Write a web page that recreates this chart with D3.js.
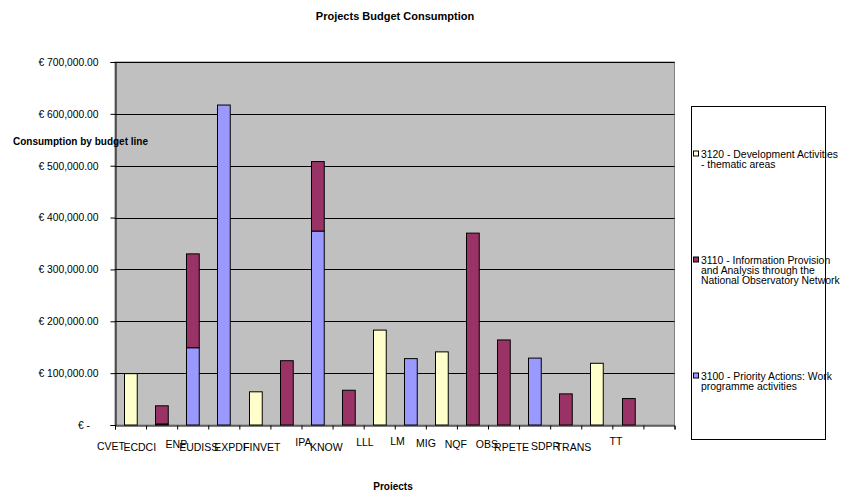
<!DOCTYPE html>
<html>
<head>
<meta charset="utf-8">
<script src="https://cdn.jsdelivr.net/npm/d3@7"></script>
<style>
  html, body { margin: 0; padding: 0; background: #fff; }
  svg { display: block; font-family: "Liberation Sans", Arial, sans-serif; }
</style>
</head>
<body>
<svg id="chart" width="844" height="490"></svg>
<script>
// ---- data ----
const categories = ["CVET","ECDCI","ENP","EUDISS","EXPDF","FINVET","IPA","KNOW","LLL","LM","MIG","NQF","OBS","RPETE","SDPR","TRANS","TT",""];
const s3100 = [0, 2000, 149000, 617000, 0, 0, 374000, 0, 0, 128000, 0, 0, 0, 129000, 0, 0, 0, 0];
const s3110 = [0, 35000, 181000, 0, 0, 124000, 134000, 67000, 0, 0, 0, 370000, 164000, 0, 60000, 0, 51000, 0];
const s3120 = [99000, 0, 0, 0, 64000, 0, 0, 0, 183000, 0, 141000, 0, 0, 0, 0, 119000, 0, 0];
const seriesNames = ["3100", "3110", "3120"];
const legendLines = {
  "3120": ["3120 - Development Activities", "- thematic areas"],
  "3110": ["3110 - Information Provision", "and Analysis through the", "National Observatory Network"],
  "3100": ["3100 - Priority Actions: Work", "programme activities"]
};
const yTicks = [0, 100000, 200000, 300000, 400000, 500000, 600000, 700000];
const colors = { "3100": "#9999FF", "3110": "#993366", "3120": "#FFFFCC" };

const titleText = "Projects Budget Consumption";
const yTitle = "Consumption by budget line";
const xTitle = "Projects";

// ---- layout ----
const svg = d3.select("#chart");
const plot = { left: 115, right: 674.5, top: 62, bottom: 425 };

const x = d3.scaleBand().domain(categories).range([plot.left, plot.right]).paddingInner(0).paddingOuter(0);
const y = d3.scaleLinear().domain([0, 700000]).range([plot.bottom, plot.top]);

const rows = categories.map((c, i) => ({ cat: c, "3100": s3100[i], "3110": s3110[i], "3120": s3120[i] }));
const stack = d3.stack().keys(seriesNames)(rows);

// plot background
svg.append("rect")
  .attr("x", plot.left).attr("y", plot.top)
  .attr("width", plot.right - plot.left).attr("height", plot.bottom - plot.top)
  .attr("fill", "#C0C0C0").attr("stroke", "#808080").attr("stroke-width", 1);

// gridlines
svg.append("g").selectAll("line").data(yTicks.filter(d => d > 0)).join("line")
  .attr("x1", plot.left).attr("x2", plot.right)
  .attr("y1", d => Math.round(y(d)) + 0.5).attr("y2", d => Math.round(y(d)) + 0.5)
  .attr("stroke", "#000").attr("stroke-width", 1);

// bars
const barW = x.bandwidth() * 0.41;
svg.append("g").selectAll("g").data(stack).join("g")
  .attr("fill", d => colors[d.key])
  .selectAll("rect").data(d => d.filter(v => v[1] - v[0] > 0)).join("rect")
  .attr("x", d => Math.round(x(d.data.cat) + (x.bandwidth() - barW) / 2) + 0.5)
  .attr("width", barW)
  .attr("y", d => y(d[1]))
  .attr("height", d => y(d[0]) - y(d[1]))
  .attr("stroke", "#000").attr("stroke-width", 1);

// y axis
const yAxis = d3.axisLeft(y).tickValues(yTicks).tickSize(5).tickPadding(12)
  .tickFormat(d => d === 0 ? "€ -\u00a0\u00a0\u00a0" : "€ " + d3.format(",.2f")(d));
const gy = svg.append("g").attr("transform", `translate(${plot.left + 0.5},0)`).call(yAxis);
gy.select(".domain").attr("stroke", "#000");
gy.selectAll(".tick line").attr("stroke", "#000");
gy.selectAll(".tick text").attr("font-size", 10.3).attr("fill", "#000")
  .attr("font-family", "Liberation Sans, Arial, sans-serif");

// x axis: ticks at category boundaries
const idx = d3.scaleLinear().domain([0, categories.length]).range([plot.left, plot.right]);
const xAxis = d3.axisBottom(idx).tickValues(d3.range(categories.length + 1)).tickSize(4).tickFormat("");
const gx = svg.append("g").attr("transform", `translate(0,${plot.bottom + 0.5})`).call(xAxis);
gx.select(".domain").attr("stroke", "#000");
gx.selectAll(".tick line").attr("stroke", "#000");

// x labels
const xl = svg.append("g").attr("font-size", 10.5).attr("fill", "#000");
xl.selectAll("text").data(categories.filter(c => c)).join("text")
  .attr("text-anchor", "end")
  .attr("x", d => x(d) + 10)
  .attr("y", 445)
  .text(d => d)
  .each(function () {
    const w = this.getComputedTextLength();
    const c = 441.5 + Math.max(0, Math.min(6, (w - 14) * 0.33));
    d3.select(this).attr("y", c + 3.8);
  });

// titles
svg.append("text").attr("x", 395).attr("y", 20).attr("text-anchor", "middle")
  .attr("font-size", 11).attr("font-weight", "bold").text(titleText);
svg.append("text").attr("x", 13).attr("y", 145).attr("text-anchor", "start")
  .attr("font-size", 10).attr("font-weight", "bold").text(yTitle);
svg.append("text").attr("x", 393).attr("y", 489.5).attr("text-anchor", "middle")
  .attr("font-size", 10).attr("font-weight", "bold").text(xTitle);

// legend
const lg = { x: 691.5, y: 106.5, w: 134, h: 333 };
const legendOrder = ["3120", "3110", "3100"];
const leg = svg.append("g");
const slot = lg.h / legendOrder.length;
legendOrder.forEach((k, i) => {
  const lines = legendLines[k];
  const lh = 10;
  const center = lg.y + (i + 0.5) * slot;
  const first = center - (lines.length - 1) * lh / 2 - 3;
  leg.append("rect").attr("x", 693.5).attr("y", first - 3)
    .attr("width", 5).attr("height", 5)
    .attr("fill", colors[k]).attr("stroke", "#000").attr("stroke-width", 1);
  const t = leg.append("text").attr("font-size", 10.4).attr("fill", "#000");
  lines.forEach((ln, j) => {
    t.append("tspan").attr("x", 701).attr("y", first + j * lh + 3.6).text(ln);
  });
});
leg.append("rect").attr("x", lg.x).attr("y", lg.y).attr("width", lg.w).attr("height", lg.h)
  .attr("fill", "none").attr("stroke", "#000").attr("stroke-width", 1);
</script>
</body>
</html>
